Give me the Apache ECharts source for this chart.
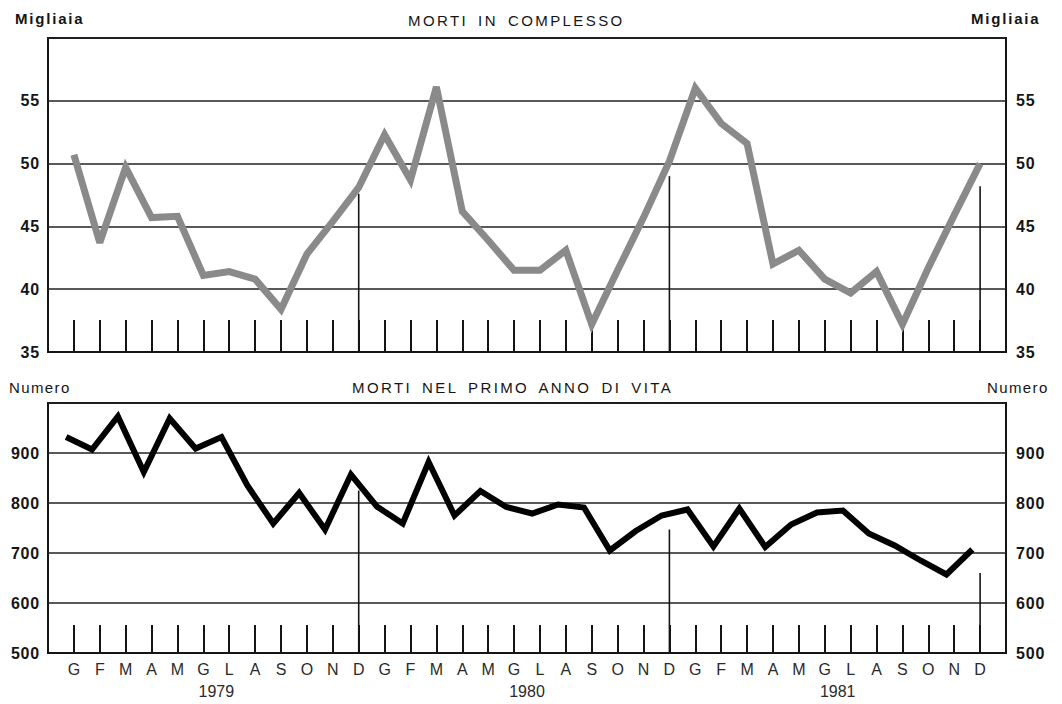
<!DOCTYPE html>
<html>
<head>
<meta charset="utf-8">
<script src="https://cdn.jsdelivr.net/npm/echarts@6/dist/echarts.min.js"></script>
<style>
html,body{margin:0;padding:0;background:#fff}
#c{width:1062px;height:704px}
</style>
</head>
<body>
<div id="c"></div>
<script>
// ---- data ----
const monthLetters = ['G','F','M','A','M','G','L','A','S','O','N','D'];
const months = [].concat(monthLetters, monthLetters, monthLetters); // Jan 1979 .. Dec 1981
const years = ['1979', '1980', '1981'];
const yearCenters = [5.5, 17.5, 29.5];

// MORTI IN COMPLESSO (migliaia)
const totalDeaths = [50.7, 43.7, 49.7, 45.7, 45.8, 41.1, 41.4, 40.8, 38.4, 42.8, 45.4, 48.1,
                     52.3, 48.7, 56.1, 46.2, 43.9, 41.5, 41.5, 43.1, 37.2, 41.5, 45.7, 50.2,
                     56.0, 53.2, 51.6, 42.0, 43.1, 40.8, 39.7, 41.4, 37.2, 41.7, 45.9, 50.0];

// MORTI NEL PRIMO ANNO DI VITA (numero)
const infantDeaths = [932, 907, 973, 862, 969, 909, 932, 835, 759, 820, 747, 857,
                      793, 759, 882, 775, 824, 792, 779, 797, 791, 705, 744, 775,
                      787, 713, 789, 712, 757, 781, 785, 739, 715, 685, 657, 707];

// year-end separator lines (month index, top value)
const yearEndTop = [[11, 47.6], [23, 49.0], [35, 48.2]];
const yearEndBottom = [[11, 825], [23, 747], [35, 660]];

const topTitle = 'MORTI IN COMPLESSO';
const bottomTitle = 'MORTI NEL PRIMO ANNO DI VITA';
const topUnit = 'Migliaia';
const bottomUnit = 'Numero';

// ---- chart ----
const FONT = 'Liberation Sans';
const INK = '#151515';
const chart = echarts.init(document.getElementById('c'), null, {renderer: 'svg'});

const gridLeft = 48, gridWidth = 958;

function yAxisCommon(grid, min, max, pos, withSplit) {
  return {
    type: 'value', gridIndex: grid, min: min, max: max, interval: (max - min) / 5,
    position: pos,
    axisLine: {show: false}, axisTick: {show: false},
    axisLabel: {
      margin: pos === 'left' ? 8 : 10,
      fontFamily: FONT, fontSize: 16, fontWeight: 'bold', color: INK,
      formatter: v => (v === max ? '' : String(v))
    },
    splitLine: {show: withSplit, lineStyle: {color: '#222', width: 1.5}}
  };
}

function sepSeries(xi, yi, data) {
  return {
    type: 'custom', xAxisIndex: xi, yAxisIndex: yi, data: data, z: 3,
    renderItem: function (params, api) {
      const p1 = api.coord([api.value(0), api.value(1)]);
      const cs = params.coordSys;
      return {
        type: 'line',
        shape: {x1: p1[0], y1: cs.y + cs.height, x2: p1[0], y2: p1[1]},
        style: {stroke: INK, lineWidth: 1.6}
      };
    }
  };
}

function textTitle(text, left, top, bold) {
  return {
    text: text, left: left, top: top, padding: 0,
    textStyle: {fontFamily: FONT, fontSize: 15, fontWeight: bold ? 'bold' : 'normal',
                color: INK, lineHeight: 16}
  };
}

const option = {
  animation: false,
  backgroundColor: '#fff',
  title: [
    textTitle(topTitle, 408, 12, false),
    textTitle(bottomTitle, 352, 379, false),
    textTitle(topUnit, 15, 10, true),
    textTitle(topUnit, 971, 10, true),
    textTitle(bottomUnit, 9, 379, false),
    textTitle(bottomUnit, 987, 379, false)
  ],
  grid: [
    {left: gridLeft, width: gridWidth, top: 38, height: 314, show: true,
     borderColor: INK, borderWidth: 2, backgroundColor: 'transparent'},
    {left: gridLeft, width: gridWidth, top: 403, height: 250, show: true,
     borderColor: INK, borderWidth: 2, backgroundColor: 'transparent'}
  ],
  xAxis: [
    { // 0: top months (ticks only)
      type: 'value', gridIndex: 0, min: -1, max: 36, interval: 1, position: 'bottom',
      axisLine: {show: true, lineStyle: {color: INK, width: 2}},
      axisTick: {show: true, inside: true, length: 32, lineStyle: {color: INK, width: 2}},
      axisLabel: {show: false}, splitLine: {show: false}
    },
    { // 1: bottom months
      type: 'value', gridIndex: 1, min: -1, max: 36, interval: 1, position: 'bottom',
      axisLine: {show: true, lineStyle: {color: INK, width: 2}},
      axisTick: {show: true, inside: true, length: 28, lineStyle: {color: INK, width: 2}},
      axisLabel: {
        show: true, margin: 8, fontFamily: FONT, fontSize: 16, color: '#2a2a2a',
        formatter: v => { const i = Math.round(v); return (i >= 0 && i < months.length) ? months[i] : ''; }
      },
      splitLine: {show: false}
    },
    { // 2: years
      type: 'value', gridIndex: 1, min: -1, max: 36, interval: 0.5, position: 'bottom', offset: 0,
      axisLine: {show: false}, axisTick: {show: false}, splitLine: {show: false},
      axisLabel: {
        show: true, margin: 30, fontFamily: FONT, fontSize: 16, color: '#2a2a2a',
        formatter: v => { const k = yearCenters.indexOf(v); return k >= 0 ? years[k] : ''; }
      }
    },
    { // 3: bottom line (printed slightly offset)
      type: 'value', gridIndex: 1, min: -0.7, max: 36.3, show: false, position: 'bottom'
    }
  ],
  yAxis: [
    yAxisCommon(0, 35, 60, 'left', true),
    yAxisCommon(0, 35, 60, 'right', false),
    yAxisCommon(1, 500, 1000, 'left', true),
    yAxisCommon(1, 500, 1000, 'right', false)
  ],
  series: [
    {
      type: 'line', xAxisIndex: 0, yAxisIndex: 0, z: 4,
      data: totalDeaths.map((v, i) => [i, v]),
      showSymbol: false, symbol: 'none',
      lineStyle: {color: '#8a8a8a', width: 7, join: 'miter', miterLimit: 3, cap: 'butt'}
    },
    sepSeries(0, 0, yearEndTop),
    {
      type: 'line', xAxisIndex: 3, yAxisIndex: 2, z: 4,
      data: infantDeaths.map((v, i) => [i, v]),
      showSymbol: false, symbol: 'none',
      lineStyle: {color: '#000', width: 6, join: 'miter', miterLimit: 3, cap: 'butt'}
    },
    sepSeries(1, 2, yearEndBottom)
  ]
};
chart.setOption(option);

// wider letter spacing, as in the printed original
function spacingFor(t) {
  if (t === topTitle || t === bottomTitle) return [2.4, 3.5];
  if (t === topUnit) return [1.8, 0];
  if (t === bottomUnit) return [1.4, 0];
  if (/^\d{2,3}$/.test(t)) return [0.8, 0];
  return null;
}
function applySpacing() {
  document.querySelectorAll('#c text').forEach(el => {
    const s = spacingFor((el.textContent || '').trim());
    if (s) {
      el.setAttribute('letter-spacing', s[0]);
      el.style.letterSpacing = s[0] + 'px';
      if (s[1]) { el.setAttribute('word-spacing', s[1]); el.style.wordSpacing = s[1] + 'px'; }
    }
  });
}
chart.on('finished', applySpacing);
[0, 30, 100, 300, 800].forEach(t => setTimeout(applySpacing, t));
</script>
</body>
</html>
